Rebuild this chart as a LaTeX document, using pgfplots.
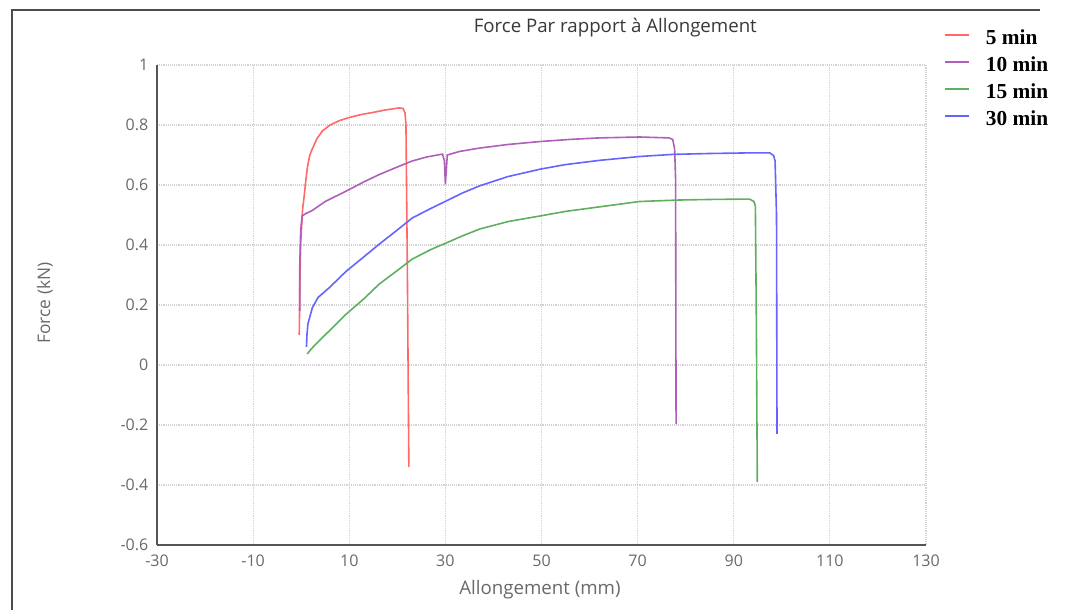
\documentclass[border=0pt]{standalone}
\usepackage{pgfplots}
\pgfplotsset{compat=1.18}
\usepackage{fontspec}
\setmainfont{Open Sans}
\newfontfamily\legfont{Liberation Serif}
\definecolor{cred}{RGB}{255,105,105}
\definecolor{cpur}{RGB}{175,95,185}
\definecolor{cgrn}{RGB}{95,175,95}
\definecolor{cblu}{RGB}{100,100,255}
\definecolor{labgray}{RGB}{105,105,105}
\definecolor{axgray}{RGB}{85,85,85}
\begin{document}
\begin{tikzpicture}
\begin{axis}[
  name=ax,
  at={(0,0)}, anchor=south west,
  scale only axis,
  width=576.75pt, height=360pt,
  xmin=-30, xmax=130, ymin=-0.6, ymax=1,
  xtick={-30,-10,10,30,50,70,90,110,130},
  ytick={-0.6,-0.4,-0.2,0,0.2,0.4,0.6,0.8,1},
  yticklabels={-0.6,-0.4,-0.2,0,0.2,0.4,0.6,0.8,1},
  xticklabels={-30,-10,10,30,50,70,90,110,130},
  axis x line*=bottom, axis y line*=left,
  axis line style={axgray, line width=2pt, -},
  major tick length=0pt,
  grid=major,
  major grid style={gray!35, densely dotted, line width=0.8pt},
  tick label style={font=\fontsize{12}{14}\selectfont, text=labgray},
  xticklabel style={yshift=-4pt},
  yticklabel style={xshift=-3pt},
  /pgf/number format/assume math mode=true,
  clip=false,
  legend style={at={(1.018,1.083)}, anchor=north west, draw=none, fill=none,
    font=\legfont\bfseries\fontsize{16}{18}\selectfont, row sep=0pt,
    nodes={inner sep=0pt, text height=12pt, text depth=8.25pt}},
  legend cell align=left,
  legend image code/.code={\draw[#1, line width=1.5pt] (0pt,5pt) -- (18pt,5pt); \path (30pt,5pt);},
]
\addplot[cred, line width=1.2pt] coordinates {
(-0.4,0.10) (-0.3,0.25) (-0.1,0.41) (0.3,0.52) (0.6,0.56) (1.0,0.62) (1.3,0.66) (1.8,0.70) (2.3,0.72) (3.3,0.755) (4.4,0.78) (6,0.80) (8,0.815) (10,0.825) (12.5,0.835) (15,0.842) (17.5,0.85) (20.4,0.857) (21.2,0.855) (21.6,0.84) (21.8,0.80) (22.1,0.3) (22.4,-0.34)
};
\addlegendentry{5 min}
\addplot[cpur, line width=1.2pt] coordinates {
(-0.3,0.18) (-0.3,0.33) (-0.1,0.45) (0.2,0.497) (1,0.505) (2.3,0.515) (5,0.545) (9.4,0.58) (13,0.61) (16.25,0.635) (20,0.66) (23.1,0.68) (26,0.693) (29.4,0.703) (29.8,0.68) (30.0,0.603) (30.2,0.65) (30.4,0.70) (33,0.712) (37.1,0.723) (43,0.735) (49.8,0.745) (56,0.752) (62,0.757) (70.4,0.76) (76.5,0.757) (77.3,0.752) (77.7,0.72) (77.9,0.62) (78.0,-0.197)
};
\addlegendentry{10 min}
\addplot[cgrn, line width=1.2pt] coordinates {
(1.25,0.037) (2.3,0.057) (4,0.085) (5.8,0.113) (9.4,0.17) (13,0.22) (16.25,0.27) (20,0.315) (23.1,0.353) (27,0.385) (30.2,0.407) (33.5,0.43) (37.1,0.453) (43,0.478) (49.8,0.497) (55,0.512) (62,0.527) (70.4,0.545) (78.75,0.55) (86,0.552) (93.3,0.553) (94.2,0.545) (94.5,0.53) (94.7,0.15) (94.9,-0.39)
};
\addlegendentry{15 min}
\addplot[cblu, line width=1.2pt] coordinates {
(1.1,0.06) (1.2,0.10) (1.4,0.137) (2.3,0.19) (3.5,0.225) (5.8,0.257) (9.4,0.313) (13,0.36) (16.25,0.403) (20,0.45) (23.1,0.49) (27,0.522) (30.2,0.547) (33.5,0.573) (37.1,0.597) (43,0.628) (49.8,0.653) (55,0.668) (62,0.682) (70.4,0.695) (77.3,0.702) (85,0.705) (93,0.707) (97.5,0.707) (98.3,0.698) (98.6,0.68) (98.9,0.50) (99.0,-0.23)
};
\addlegendentry{30 min}
\node[font=\fontsize{14}{16}\selectfont, text=black!78] at (axis description cs:0.596,1.077) {Force Par rapport à Allongement};
\node[font=\fontsize{14}{16}\selectfont, text=labgray] at (axis description cs:0.498,-0.094) {Allongement (mm)};
\node[font=\fontsize{13}{15}\selectfont, text=labgray, rotate=90] at (axis description cs:-0.1456,0.504) {Force (kN)};
\end{axis}
\pgfresetboundingbox
\path (-117.75pt,-48.75pt) rectangle (683.25pt,408.75pt);
\draw[black!70, line width=1.2pt] (-108.75pt,-48.75pt) -- (-108.75pt,401.25pt) -- (662pt,401.25pt);
\end{tikzpicture}
\end{document}
